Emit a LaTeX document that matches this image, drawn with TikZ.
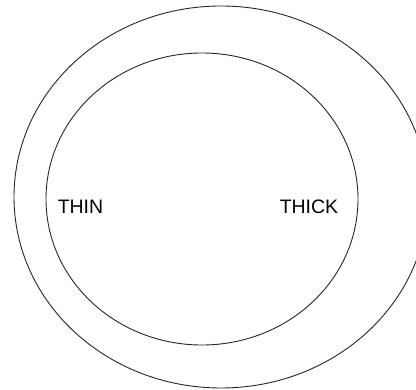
\documentclass[tikz,border=0pt]{standalone}
\usepackage{fontspec}
\setmainfont{Liberation Sans}
\begin{document}
\begin{tikzpicture}[x=1pt,y=-1pt,
  ring/.style={draw=black!85, line width=0.9pt},
  lbl/.style={inner sep=0pt, font=\fontsize{19.5}{20}\selectfont}]
\useasboundingbox (0,0) rectangle (416,390);
\clip (0,0) rectangle (416,390);
\draw[ring] (221,197) ellipse [x radius=207, y radius=191];
\draw[ring] (202,199) ellipse [x radius=156, y radius=146];
\node[lbl] (thin) at (80.5,206.5) {THIN};
\node[lbl] (thick) at (309,206.5) {THICK};
\end{tikzpicture}
\end{document}
